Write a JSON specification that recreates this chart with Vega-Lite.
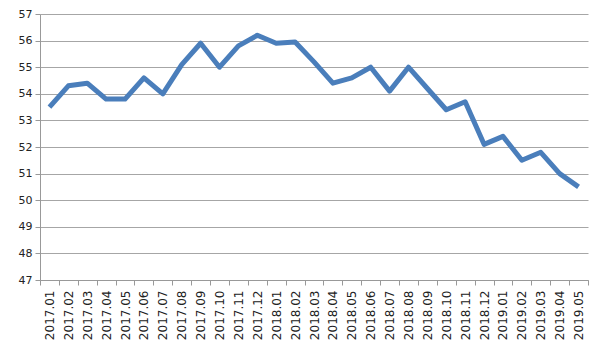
{
  "$schema": "https://vega.github.io/schema/vega-lite/v6.json",
  "autosize": "none",
  "width": 548,
  "height": 266,
  "padding": {"left": 40, "top": 14, "right": 12, "bottom": 78},
  "background": "white",
  "config": {"view": {"stroke": null}},
  "data": {"values": [
    {"m": "2017.01", "v": 53.5},
    {"m": "2017.02", "v": 54.3},
    {"m": "2017.03", "v": 54.4},
    {"m": "2017.04", "v": 53.8},
    {"m": "2017.05", "v": 53.8},
    {"m": "2017.06", "v": 54.6},
    {"m": "2017.07", "v": 54.0},
    {"m": "2017.08", "v": 55.1},
    {"m": "2017.09", "v": 55.9},
    {"m": "2017.10", "v": 55.0},
    {"m": "2017.11", "v": 55.8},
    {"m": "2017.12", "v": 56.2},
    {"m": "2018.01", "v": 55.9},
    {"m": "2018.02", "v": 55.95},
    {"m": "2018.03", "v": 55.2},
    {"m": "2018.04", "v": 54.4},
    {"m": "2018.05", "v": 54.6},
    {"m": "2018.06", "v": 55.0},
    {"m": "2018.07", "v": 54.1},
    {"m": "2018.08", "v": 55.0},
    {"m": "2018.09", "v": 54.2},
    {"m": "2018.10", "v": 53.4},
    {"m": "2018.11", "v": 53.7},
    {"m": "2018.12", "v": 52.1},
    {"m": "2019.01", "v": 52.4},
    {"m": "2019.02", "v": 51.5},
    {"m": "2019.03", "v": 51.8},
    {"m": "2019.04", "v": 51.0},
    {"m": "2019.05", "v": 50.5}
  ]},
  "mark": {"type": "line", "color": "#4a7ebb", "strokeWidth": 5, "strokeJoin": "round"},
  "encoding": {
    "x": {
      "field": "m", "type": "ordinal", "sort": null,
      "scale": {"type": "band", "paddingInner": 0, "paddingOuter": 0},
      "axis": {
        "title": null, "tickBand": "extent", "labelAngle": 270, "labelAlign": "right",
        "labelBaseline": "middle", "labelFont": "DejaVu Sans", "labelFontSize": 12,
        "labelColor": "#222", "labelPadding": 5, "tickSize": 5, "tickColor": "#999",
        "domainColor": "#999", "grid": false
      }
    },
    "y": {
      "field": "v", "type": "quantitative",
      "scale": {"domain": [47, 57], "nice": false, "zero": false},
      "axis": {
        "title": null, "values": [47, 48, 49, 50, 51, 52, 53, 54, 55, 56, 57],
        "labelFont": "DejaVu Sans", "labelFontSize": 11, "labelColor": "#222",
        "labelPadding": 3, "tickSize": 5, "tickColor": "#999", "domainColor": "#999",
        "grid": true, "gridColor": "#a6a6a6", "gridWidth": 1
      }
    }
  }
}
